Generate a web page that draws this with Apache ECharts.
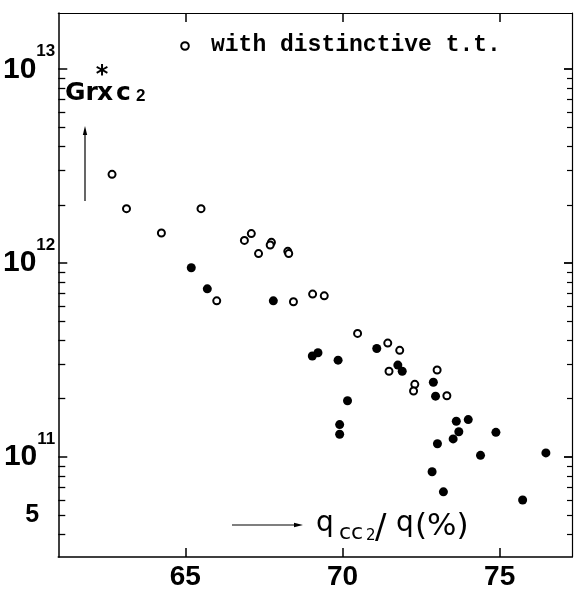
<!DOCTYPE html>
<html><head><meta charset="utf-8">
<script src="https://cdn.jsdelivr.net/npm/echarts@6/dist/echarts.min.js"></script>
<style>html,body{margin:0;padding:0;background:#fff}#c{width:575px;height:595px}</style>
</head><body><div id="c"></div>
<script>
// open circles: "with distinctive t.t."
const openX = [62.67, 63.13, 65.50, 64.24, 66.88, 67.10, 67.33, 67.74, 67.70, 68.26, 68.29, 66.00, 68.44, 69.05, 69.42, 70.48, 71.44, 71.82, 71.48, 73.01, 72.30, 72.26, 73.32];
const openY = [2.87e12, 1.91e12, 1.91e12, 1.43e12, 1.31e12, 1.42e12, 1.12e12, 1.28e12, 1.24e12, 1.15e12, 1.12e12, 6.39e11, 6.32e11, 6.92e11, 6.78e11, 4.34e11, 3.87e11, 3.55e11, 2.77e11, 2.81e11, 2.37e11, 2.19e11, 2.07e11];
// filled circles
const filledX = [65.19, 65.70, 67.80, 69.04, 69.22, 69.86, 71.09, 71.76, 71.90, 72.89, 72.96, 70.16, 69.91, 69.91, 73.62, 74.00, 73.70, 73.52, 74.88, 73.02, 74.39, 76.47, 72.85, 73.21, 75.73];
const filledY = [9.46e11, 7.37e11, 6.39e11, 3.32e11, 3.45e11, 3.16e11, 3.63e11, 2.98e11, 2.77e11, 2.43e11, 2.06e11, 1.95e11, 1.47e11, 1.31e11, 1.53e11, 1.56e11, 1.35e11, 1.24e11, 1.34e11, 1.17e11, 1.02e11, 1.05e11, 8.39e10, 6.61e10, 6.0e10];
const xTicks = [65, 70, 75];
const yMajor = [1e11, 1e12, 1e13];
const yMinor = [4e10, 5e10, 6e10, 7e10, 8e10, 9e10, 2e11, 3e11, 4e11, 5e11, 6e11, 7e11, 8e11, 9e11, 2e12, 3e12, 4e12, 5e12, 6e12, 7e12, 8e12, 9e12];
const yLabels = [5e10, 1e11, 1e12, 1e13];
const xMin = 60.96, xMax = 77.3, yMin = 3.05e10, yMax = 1.95e13;

const chart = echarts.init(document.getElementById('c'), null, {renderer: 'canvas'});
const FONT = "'Liberation Sans', Arial, sans-serif";
function yAx(opts) {
  return Object.assign({
    type: 'log', logBase: 10, min: yMin, max: yMax,
    splitLine: {show: false}, axisLabel: {show: false},
    axisLine: {show: false}, axisTick: {show: false}
  }, opts);
}
function xAx(opts) {
  return Object.assign({
    type: 'value', min: xMin, max: xMax,
    splitLine: {show: false}, axisLabel: {show: false},
    axisLine: {show: true, lineStyle: {color: '#000', width: 1.5}},
    axisTick: {show: true, inside: true, length: 9, customValues: xTicks, lineStyle: {color: '#000', width: 1.5}}
  }, opts);
}
function txt(x, y, s, font, align) {
  return {type: 'text', x: x, y: y, style: {text: s, font: font, fill: '#000', verticalAlign: 'middle', align: align || 'left'}};
}
const G = "bold 25px 'DejaVu Sans', sans-serif";
const Q = "28px 'DejaVu Sans', sans-serif";
const option = {
  animation: false,
  backgroundColor: '#fff',
  grid: {left: 54, right: 3, top: 13, bottom: 38, containLabel: false},
  xAxis: [
    xAx({position: 'bottom', axisLabel: {show: true, customValues: xTicks, margin: 6,
      fontFamily: FONT, fontWeight: 'bold', fontSize: 28, color: '#000'}}),
    xAx({position: 'top', axisLine: {show: true, lineStyle: {color: '#000', width: 1.2}}})
  ],
  yAxis: [
    yAx({position: 'left',
      axisLine: {show: true, lineStyle: {color: '#000', width: 1.5}},
      axisTick: {show: true, inside: true, length: 9, customValues: yMajor, lineStyle: {color: '#000', width: 1.5}},
      axisLabel: {show: true, customValues: yLabels, margin: 3, hideOverlap: false,
        formatter: function (v) {
          if (Math.abs(v - 5e10) < 1e6) return '{f|5}';
          return '{a|10}{b|' + Math.round(Math.log10(v)) + '}';
        },
        rich: {
          a: {fontFamily: FONT, fontWeight: 'bold', fontSize: 30, lineHeight: 52, color: '#000', verticalAlign: 'middle'},
          b: {fontFamily: FONT, fontWeight: 'bold', fontSize: 17, lineHeight: 2, color: '#000', verticalAlign: 'top'},
          f: {fontFamily: FONT, fontWeight: 'bold', fontSize: 25, lineHeight: 25, color: '#000', padding: [0, 16, 0, 0]}
        }
      }}),
    yAx({position: 'left',
      axisTick: {show: true, inside: true, length: 7, customValues: yMinor, lineStyle: {color: '#000', width: 1.3}}}),
    yAx({position: 'right',
      axisLine: {show: true, lineStyle: {color: '#000', width: 1.2}},
      axisTick: {show: true, inside: true, length: 8, customValues: yMajor, lineStyle: {color: '#000', width: 1.8}}}),
    yAx({position: 'right',
      axisTick: {show: true, inside: true, length: 5, customValues: yMinor, lineStyle: {color: '#000', width: 1.2}}})
  ],
  series: [
    {type: 'scatter', xAxisIndex: 0, yAxisIndex: 0, symbol: 'circle', symbolSize: 7,
      data: openX.map((x, i) => [x, openY[i]]),
      itemStyle: {color: '#fff', borderColor: '#000', borderWidth: 2, opacity: 1},
      emphasis: {disabled: true}, silent: true, z: 3},
    {type: 'scatter', xAxisIndex: 0, yAxisIndex: 0, symbol: 'circle', symbolSize: 9,
      data: filledX.map((x, i) => [x, filledY[i]]),
      itemStyle: {color: '#000', opacity: 1},
      emphasis: {disabled: true}, silent: true, z: 4}
  ],
  graphic: [
    // legend
    {type: 'circle', shape: {cx: 185, cy: 46, r: 3.8}, style: {fill: '#fff', stroke: '#000', lineWidth: 2}},
    txt(211, 45, 'with distinctive t.t.', "bold 23px 'Liberation Mono', 'DejaVu Sans Mono', monospace"),
    // y quantity label
    txt(102, 76, '*', "bold 24px 'DejaVu Sans', sans-serif", 'center'),
    txt(65, 93, 'G', G),
    txt(85.5, 93, 'r', G),
    txt(97, 93, 'x', G),
    txt(116, 93, 'c', G),
    txt(136, 96, '2', "bold 17px 'Liberation Sans', Arial, sans-serif"),
    {type: 'line', shape: {x1: 85, y1: 201, x2: 85, y2: 132}, style: {stroke: '#000', lineWidth: 1.2}},
    {type: 'polygon', shape: {points: [[85, 126], [82.8, 135], [87.2, 135]]}, style: {fill: '#000'}},
    // x quantity label
    {type: 'line', shape: {x1: 232, y1: 525, x2: 296, y2: 525}, style: {stroke: '#000', lineWidth: 1.2}},
    {type: 'polygon', shape: {points: [[303, 525], [294, 522.8], [294, 527.2]]}, style: {fill: '#000'}},
    txt(316, 524, 'q', Q),
    txt(339, 533, 'cc', "22px 'DejaVu Sans', sans-serif"),
    txt(366, 536, '2', "15px 'DejaVu Sans', sans-serif"),
    txt(375, 529, '/', "34px 'DejaVu Sans', sans-serif"),
    txt(396, 524, 'q', Q),
    txt(415, 527, '(%)', "31px 'DejaVu Sans', sans-serif")
  ]
};
chart.setOption(option);
</script>
</body></html>
